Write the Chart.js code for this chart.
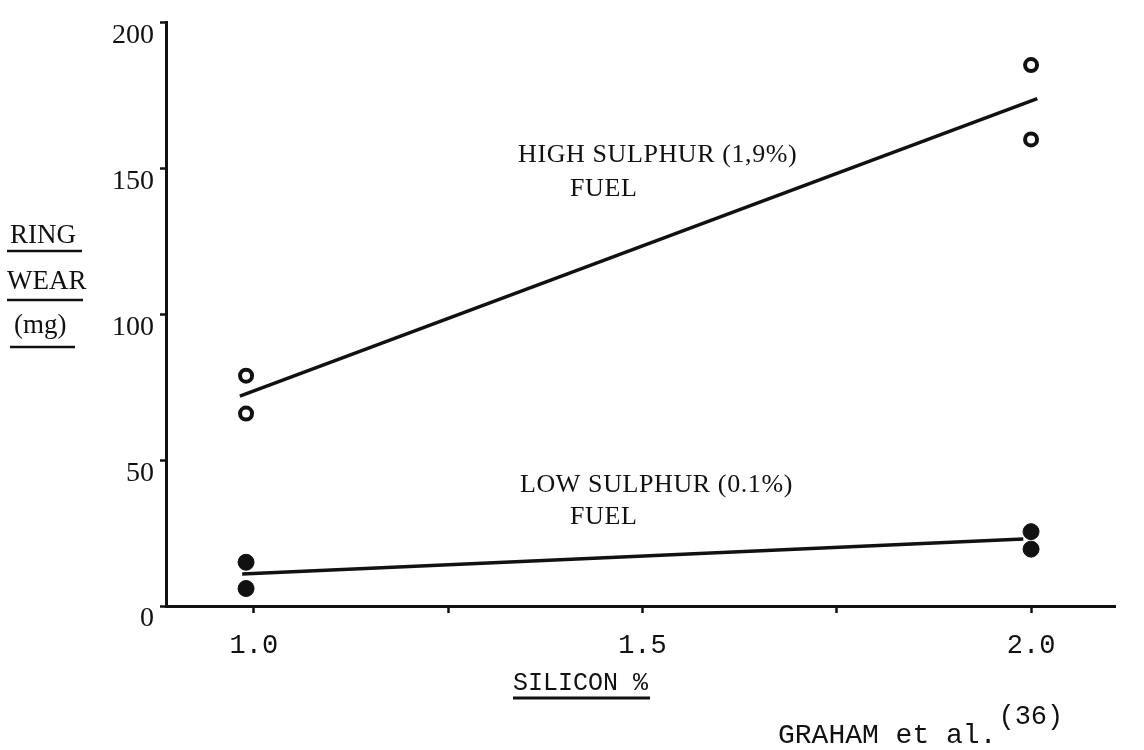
<!DOCTYPE html>
<html>
<head>
<meta charset="utf-8">
<script src="https://cdn.jsdelivr.net/npm/chart.js@4"></script>
<style>
  html, body { margin: 0; padding: 0; background: #fff; }
  canvas { display: block; }
</style>
</head>
<body>
<canvas id="wear" width="1144" height="750"></canvas>
<script>
// silicon content (%) of each test and measured ring wear (mg)
const highX = [0.99, 0.99, 2.0, 2.0];
const highY = [79, 66, 185.5, 160];
const lowX = [0.99, 0.99, 2.0, 2.0];
const lowY = [15, 6, 25.5, 19.5];

// fitted lines, read at their drawn ends
const highLineX = [0.982, 2.008];
const highLineY = [72, 174];
const lowLineX = [0.985, 1.99];
const lowLineY = [11, 23];

const xTicks = [1.0, 1.25, 1.5, 1.75, 2.0];
const yTicks = [0, 50, 100, 150, 200];

const ink = "#111";

const toPoints = (xs, ys) => xs.map((x, i) => ({ x: x, y: ys[i] }));

// labels, axis titles and the source note
const notes = {
  id: "notes",
  afterDraw(chart) {
    const ctx = chart.ctx;
    ctx.save();
    ctx.fillStyle = ink;
    ctx.strokeStyle = ink;
    ctx.textBaseline = "alphabetic";

    ctx.font = '26px "Liberation Serif"';
    ctx.letterSpacing = "0.6px";
    ctx.fillText("HIGH SULPHUR (1,9%)", 518, 162);
    ctx.fillText("FUEL", 570, 196);
    ctx.fillText("LOW SULPHUR (0.1%)", 520, 492);
    ctx.fillText("FUEL", 570, 524);
    ctx.letterSpacing = "0px";

    // y title, three underlined words
    ctx.font = '27px "Liberation Serif"';
    ctx.lineWidth = 2.5;
    const under = (y, x0, x1) => {
      ctx.beginPath();
      ctx.moveTo(x0, y);
      ctx.lineTo(x1, y);
      ctx.stroke();
    };
    ctx.fillText("RING", 10, 243);
    under(251, 7, 82);
    ctx.fillText("WEAR", 7, 289);
    under(300, 7, 83);
    ctx.fillText("(mg)", 14, 333);
    under(347, 10, 75);

    // x title
    ctx.font = '25px "Liberation Mono"';
    ctx.fillText("SILICON %", 513, 690);
    ctx.lineWidth = 3;
    under(698, 513, 650);

    // source
    ctx.font = '28px "Liberation Mono"';
    const src = "GRAHAM et al.";
    ctx.fillText(src, 778, 743);
    const w = ctx.measureText(src).width;
    ctx.font = '27px "Liberation Mono"';
    ctx.fillText("(36)", 778 + w + 2, 724);
    ctx.restore();
  },
};

new Chart(document.getElementById("wear"), {
  type: "scatter",
  plugins: [notes],
  data: {
    datasets: [
      {
        type: "line",
        data: toPoints(highLineX, highLineY),
        borderColor: ink,
        borderWidth: 3.5,
        pointRadius: 0,
      },
      {
        type: "line",
        data: toPoints(lowLineX, lowLineY),
        borderColor: ink,
        borderWidth: 3.5,
        pointRadius: 0,
      },
      {
        data: toPoints(highX, highY),
        pointStyle: "circle",
        pointRadius: 6,
        pointBorderWidth: 4,
        pointBorderColor: ink,
        pointBackgroundColor: "#fff",
      },
      {
        data: toPoints(lowX, lowY),
        pointStyle: "circle",
        pointRadius: 8,
        pointBorderWidth: 1,
        pointBorderColor: ink,
        pointBackgroundColor: ink,
      },
    ],
  },
  options: {
    responsive: false,
    animation: false,
    layout: { padding: { top: 12, right: 29, left: 0, bottom: 0 } },
    plugins: { legend: { display: false }, tooltip: { enabled: false } },
    scales: {
      x: {
        type: "linear",
        min: 0.887,
        max: 2.108,
        afterFit: (s) => { s.height = 144; },
        afterBuildTicks: (s) => { s.ticks = xTicks.map((v) => ({ value: v })); },
        border: { display: true, color: ink, width: 3 },
        grid: { drawOnChartArea: false, drawTicks: true, tickLength: 7, tickWidth: 2.5, tickColor: ink },
        ticks: {
          autoSkip: false,
          padding: 17,
          color: ink,
          font: { family: "Liberation Mono", size: 27 },
          callback: (v) => (v * 2 === Math.round(v * 2) ? v.toFixed(1) : ""),
        },
      },
      y: {
        min: 0,
        max: 200,
        afterFit: (s) => { s.width = 166; },
        afterBuildTicks: (s) => { s.ticks = yTicks.map((v) => ({ value: v })); },
        border: { display: true, color: ink, width: 3 },
        grid: { drawOnChartArea: false, drawTicks: true, tickLength: 6, tickWidth: 2.5, tickColor: ink },
        ticks: {
          padding: 6,
          labelOffset: 13,
          color: ink,
          font: { family: "Liberation Serif", size: 28 },
        },
      },
    },
  },
});
</script>
</body>
</html>
